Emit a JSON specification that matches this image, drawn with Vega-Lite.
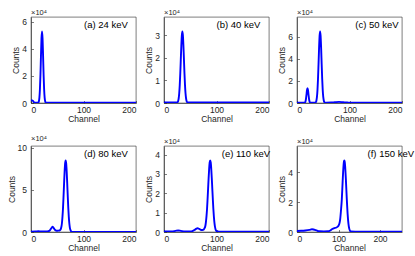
{
  "$schema": "https://vega.github.io/schema/vega-lite/v6.json",
  "padding": {"left": 6, "top": 8, "right": 2, "bottom": 2},
  "bounds": "flush",
  "columns": 3,
  "spacing": {"row": 43, "column": 28},
  "config": {
    "view": {"stroke": "#262626", "strokeWidth": 0.6},
    "axis": {"domainColor": "#262626", "domainWidth": 0.6, "tickColor": "#262626", "tickWidth": 0.6, "tickSize": -2.5, "labelFont": "Liberation Sans", "labelFontSize": 8.5, "labelColor": "#262626", "titleFont": "Liberation Sans", "titleFontSize": 8.5, "titleFontWeight": "normal", "titleColor": "#262626", "grid": false},
    "axisX": {"labelPadding": 4.5, "titlePadding": 0.5},
    "axisY": {"labelPadding": 7, "titlePadding": 1},
    "title": {"font": "Liberation Sans", "fontSize": 7.5, "fontWeight": "normal", "color": "#262626", "anchor": "start", "frame": "group", "offset": 1},
    "text": {"font": "Liberation Sans", "fontSize": 9.5, "color": "#000000"},
    "line": {"color": "#0000ff", "strokeWidth": 1.9, "interpolate": "monotone"}
  },
  "datasets": {
    "a": [{"channel":0,"counts":0.2},{"channel":3,"counts":0.18},{"channel":5,"counts":0.1},{"channel":6,"counts":0.03},{"channel":8,"counts":0.02},{"channel":13,"counts":0.02},{"channel":14,"counts":0.04},{"channel":15,"counts":0.13},{"channel":16,"counts":0.4},{"channel":17,"counts":1.02},{"channel":18,"counts":2.09},{"channel":19,"counts":3.51},{"channel":20,"counts":4.78},{"channel":21,"counts":5.3},{"channel":22,"counts":4.78},{"channel":23,"counts":3.51},{"channel":24,"counts":2.09},{"channel":25,"counts":1.02},{"channel":26,"counts":0.4},{"channel":27,"counts":0.13},{"channel":28,"counts":0.04},{"channel":30,"counts":0.02},{"channel":200,"counts":0.02}],
    "b": [{"channel":0,"counts":0.02},{"channel":25,"counts":0.02},{"channel":26,"counts":0.04},{"channel":27,"counts":0.09},{"channel":28,"counts":0.21},{"channel":29,"counts":0.43},{"channel":30,"counts":0.79},{"channel":31,"counts":1.3},{"channel":32,"counts":1.92},{"channel":33,"counts":2.53},{"channel":34,"counts":2.99},{"channel":35,"counts":3.16},{"channel":36,"counts":2.99},{"channel":37,"counts":2.53},{"channel":38,"counts":1.92},{"channel":39,"counts":1.3},{"channel":40,"counts":0.79},{"channel":41,"counts":0.43},{"channel":42,"counts":0.21},{"channel":43,"counts":0.09},{"channel":44,"counts":0.04},{"channel":46,"counts":0.02},{"channel":200,"counts":0.02}],
    "c": [{"channel":0,"counts":0.02},{"channel":14,"counts":0.02},{"channel":15,"counts":0.04},{"channel":16,"counts":0.11},{"channel":17,"counts":0.34},{"channel":18,"counts":0.73},{"channel":19,"counts":1.16},{"channel":20,"counts":1.35},{"channel":21,"counts":1.16},{"channel":22,"counts":0.73},{"channel":23,"counts":0.34},{"channel":24,"counts":0.11},{"channel":25,"counts":0.04},{"channel":27,"counts":0.02},{"channel":34,"counts":0.02},{"channel":35,"counts":0.04},{"channel":36,"counts":0.08},{"channel":37,"counts":0.23},{"channel":38,"counts":0.55},{"channel":39,"counts":1.17},{"channel":40,"counts":2.17},{"channel":41,"counts":3.51},{"channel":42,"counts":4.94},{"channel":43,"counts":6.07},{"channel":44,"counts":6.5},{"channel":45,"counts":6.07},{"channel":46,"counts":4.94},{"channel":47,"counts":3.51},{"channel":48,"counts":2.17},{"channel":49,"counts":1.17},{"channel":50,"counts":0.55},{"channel":51,"counts":0.23},{"channel":52,"counts":0.08},{"channel":53,"counts":0.04},{"channel":56,"counts":0.03},{"channel":65,"counts":0.04},{"channel":72,"counts":0.07},{"channel":80,"counts":0.1},{"channel":88,"counts":0.07},{"channel":96,"counts":0.04},{"channel":105,"counts":0.02},{"channel":200,"counts":0.02}],
    "d": [{"channel":0,"counts":0.05},{"channel":8,"counts":0.06},{"channel":14,"counts":0.1},{"channel":20,"counts":0.06},{"channel":28,"counts":0.07},{"channel":33,"counts":0.1},{"channel":36,"counts":0.2},{"channel":38,"counts":0.38},{"channel":40,"counts":0.56},{"channel":41,"counts":0.62},{"channel":42,"counts":0.58},{"channel":44,"counts":0.4},{"channel":46,"counts":0.24},{"channel":48,"counts":0.17},{"channel":50,"counts":0.15},{"channel":52,"counts":0.16},{"channel":54,"counts":0.18},{"channel":55,"counts":0.2},{"channel":56,"counts":0.26},{"channel":57,"counts":0.4},{"channel":58,"counts":0.65},{"channel":59,"counts":1.1},{"channel":60,"counts":1.85},{"channel":61,"counts":2.88},{"channel":62,"counts":4.26},{"channel":63,"counts":5.76},{"channel":64,"counts":7.15},{"channel":65,"counts":8.14},{"channel":66,"counts":8.5},{"channel":67,"counts":8.14},{"channel":68,"counts":7.15},{"channel":69,"counts":5.76},{"channel":70,"counts":4.26},{"channel":71,"counts":2.88},{"channel":72,"counts":1.79},{"channel":73,"counts":1.02},{"channel":74,"counts":0.53},{"channel":75,"counts":0.26},{"channel":76,"counts":0.11},{"channel":77,"counts":0.05},{"channel":80,"counts":0.02},{"channel":200,"counts":0.02}],
    "e": [{"channel":0,"counts":0.03},{"channel":15,"counts":0.03},{"channel":22,"counts":0.06},{"channel":27,"counts":0.08},{"channel":32,"counts":0.06},{"channel":40,"counts":0.03},{"channel":50,"counts":0.03},{"channel":55,"counts":0.06},{"channel":58,"counts":0.1},{"channel":61,"counts":0.16},{"channel":64,"counts":0.19},{"channel":67,"counts":0.16},{"channel":70,"counts":0.11},{"channel":72,"counts":0.1},{"channel":74,"counts":0.11},{"channel":76,"counts":0.14},{"channel":77,"counts":0.19},{"channel":78,"counts":0.24},{"channel":79,"counts":0.35},{"channel":80,"counts":0.55},{"channel":81,"counts":0.83},{"channel":82,"counts":1.2},{"channel":83,"counts":1.7},{"channel":84,"counts":2.24},{"channel":85,"counts":2.79},{"channel":86,"counts":3.26},{"channel":87,"counts":3.59},{"channel":88,"counts":3.7},{"channel":89,"counts":3.59},{"channel":90,"counts":3.26},{"channel":91,"counts":2.79},{"channel":92,"counts":2.24},{"channel":93,"counts":1.7},{"channel":94,"counts":1.2},{"channel":95,"counts":0.8},{"channel":96,"counts":0.5},{"channel":97,"counts":0.29},{"channel":98,"counts":0.16},{"channel":99,"counts":0.085},{"channel":100,"counts":0.04},{"channel":105,"counts":0.02},{"channel":200,"counts":0.02}],
    "f": [{"channel":0,"counts":0.07},{"channel":10,"counts":0.08},{"channel":20,"counts":0.1},{"channel":30,"counts":0.14},{"channel":36,"counts":0.18},{"channel":40,"counts":0.17},{"channel":45,"counts":0.12},{"channel":50,"counts":0.07},{"channel":55,"counts":0.05},{"channel":65,"counts":0.04},{"channel":75,"counts":0.05},{"channel":80,"counts":0.1},{"channel":85,"counts":0.2},{"channel":90,"counts":0.26},{"channel":95,"counts":0.3},{"channel":98,"counts":0.36},{"channel":100,"counts":0.42},{"channel":102,"counts":0.55},{"channel":104,"counts":0.85},{"channel":106,"counts":1.45},{"channel":108,"counts":2.2},{"channel":110,"counts":3.39},{"channel":112,"counts":4.4},{"channel":113,"counts":4.7},{"channel":114,"counts":4.8},{"channel":115,"counts":4.7},{"channel":116,"counts":4.4},{"channel":118,"counts":3.39},{"channel":120,"counts":2.2},{"channel":122,"counts":1.2},{"channel":124,"counts":0.55},{"channel":126,"counts":0.21},{"channel":128,"counts":0.07},{"channel":130,"counts":0.03},{"channel":140,"counts":0.02},{"channel":253,"counts":0.02}]
  },
  "concat": [
    {"width": 105, "height": 86, "title": "×10⁴",
     "layer": [
      {"data": {"name": "a"}, "mark": {"type": "line", "clip": true},
       "encoding": {"x": {"field": "channel", "type": "quantitative", "scale": {"domain": [0, 200], "nice": false}, "axis": {"values": [0, 100, 200], "title": "Channel"}},
                    "y": {"field": "counts", "type": "quantitative", "scale": {"domain": [0, 6.36], "nice": false}, "axis": {"tickCount": 4, "title": "Counts"}}}},
      {"data": {"values": [{"label": "(a) 24 keV"}]}, "mark": {"type": "text", "align": "left", "baseline": "middle", "dy": 7.5},
       "encoding": {"x": {"datum": 101}, "y": {"datum": 6.36}, "text": {"field": "label"}}}
     ]},
    {"width": 105, "height": 86, "title": "×10⁴",
     "layer": [
      {"data": {"name": "b"}, "mark": {"type": "line", "clip": true},
       "encoding": {"x": {"field": "channel", "type": "quantitative", "scale": {"domain": [0, 200], "nice": false}, "axis": {"values": [0, 100, 200], "title": "Channel"}},
                    "y": {"field": "counts", "type": "quantitative", "scale": {"domain": [0, 3.8], "nice": false}, "axis": {"tickCount": 4, "title": "Counts"}}}},
      {"data": {"values": [{"label": "(b) 40 keV"}]}, "mark": {"type": "text", "align": "left", "baseline": "middle", "dy": 7.5},
       "encoding": {"x": {"datum": 100}, "y": {"datum": 3.8}, "text": {"field": "label"}}}
     ]},
    {"width": 105, "height": 86, "title": "×10⁴",
     "layer": [
      {"data": {"name": "c"}, "mark": {"type": "line", "clip": true},
       "encoding": {"x": {"field": "channel", "type": "quantitative", "scale": {"domain": [0, 200], "nice": false}, "axis": {"values": [0, 100, 200], "title": "Channel"}},
                    "y": {"field": "counts", "type": "quantitative", "scale": {"domain": [0, 7.8], "nice": false}, "axis": {"tickCount": 4, "title": "Counts"}}}},
      {"data": {"values": [{"label": "(c) 50 keV"}]}, "mark": {"type": "text", "align": "left", "baseline": "middle", "dy": 7.5},
       "encoding": {"x": {"datum": 111}, "y": {"datum": 7.8}, "text": {"field": "label"}}}
     ]},
    {"width": 105, "height": 86, "title": "×10⁴",
     "layer": [
      {"data": {"name": "d"}, "mark": {"type": "line", "clip": true},
       "encoding": {"x": {"field": "channel", "type": "quantitative", "scale": {"domain": [0, 200], "nice": false}, "axis": {"values": [0, 100, 200], "title": "Channel"}},
                    "y": {"field": "counts", "type": "quantitative", "scale": {"domain": [0, 10.2], "nice": false}, "axis": {"tickCount": 2, "title": "Counts"}}}},
      {"data": {"values": [{"label": "(d) 80 keV"}]}, "mark": {"type": "text", "align": "left", "baseline": "middle", "dy": 7.5},
       "encoding": {"x": {"datum": 101}, "y": {"datum": 10.2}, "text": {"field": "label"}}}
     ]},
    {"width": 105, "height": 86, "title": "×10⁴",
     "layer": [
      {"data": {"name": "e"}, "mark": {"type": "line", "clip": true},
       "encoding": {"x": {"field": "channel", "type": "quantitative", "scale": {"domain": [0, 200], "nice": false}, "axis": {"values": [0, 100, 200], "title": "Channel"}},
                    "y": {"field": "counts", "type": "quantitative", "scale": {"domain": [0, 4.44], "nice": false}, "axis": {"tickCount": 5, "title": "Counts"}}}},
      {"data": {"values": [{"label": "(e) 110 keV"}]}, "mark": {"type": "text", "align": "left", "baseline": "middle", "dy": 7.5},
       "encoding": {"x": {"datum": 110}, "y": {"datum": 4.44}, "text": {"field": "label"}}}
     ]},
    {"width": 105, "height": 86, "title": "×10⁴",
     "layer": [
      {"data": {"name": "f"}, "mark": {"type": "line", "clip": true},
       "encoding": {"x": {"field": "channel", "type": "quantitative", "scale": {"domain": [0, 253], "nice": false}, "axis": {"values": [0, 100, 200], "title": "Channel"}},
                    "y": {"field": "counts", "type": "quantitative", "scale": {"domain": [0, 5.76], "nice": false}, "axis": {"tickCount": 3, "title": "Counts"}}}},
      {"data": {"values": [{"label": "(f) 150 keV"}]}, "mark": {"type": "text", "align": "left", "baseline": "middle", "dy": 7.5},
       "encoding": {"x": {"datum": 170}, "y": {"datum": 5.76}, "text": {"field": "label"}}}
     ]}
  ]
}
